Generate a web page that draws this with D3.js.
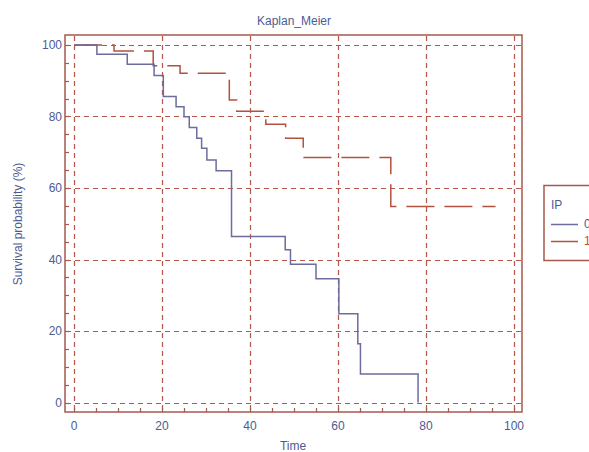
<!DOCTYPE html>
<html>
<head>
<meta charset="utf-8">
<script src="https://cdn.jsdelivr.net/npm/d3@7"></script>
<style>
  body { margin: 0; background: #fff; }
  svg { display: block; font-family: "Liberation Sans", Arial, sans-serif; }
</style>
</head>
<body>
<div id="chart"></div>
<script>
"use strict";

// Kaplan-Meier step data (time, survival %)
var group0Time = [0, 5.2, 12.1, 18.2, 20.3, 23.2, 25.0, 26.2, 27.9, 29.0, 30.2, 32.3, 35.8, 48.0, 49.2, 55.0, 60.2, 64.5, 65.1, 78.2];
var group0Surv = [100, 97.4, 94.6, 91.5, 85.6, 82.7, 79.9, 76.9, 73.9, 71.1, 67.8, 64.8, 46.4, 42.7, 38.7, 34.6, 24.8, 16.4, 8.0, 0];
var group0End = 78.2;

var group1Time = [0, 9.1, 18.0, 24.1, 35.3, 37.0, 43.6, 48.1, 52.1, 72.0];
var group1Surv = [100, 98.3, 94.2, 92.1, 84.6, 81.5, 77.8, 73.9, 68.5, 54.8];
var group1End = 95.8;

var xTicks = [0, 20, 40, 60, 80, 100];
var yTicks = [0, 20, 40, 60, 80, 100];
var legendLabels = ["0", "1"];

var W = 589, H = 452;
var frame = {left: 65, top: 35, right: 522, bottom: 412};

var txtColor = "#4b5b94";
var frameColor = "#a55a4f";
var gridColor = "#b4564a";
var c0 = "#6c6c9e";
var c1 = "#b4503f";

var svg = d3.select("#chart").append("svg")
    .attr("width", W)
    .attr("height", H);

// scales: 0->74, 100->514 ; y 0->402.5, 100->45
var x = d3.scaleLinear().domain([0, 100]).range([74, 514]);
var y = d3.scaleLinear().domain([0, 100]).range([402.5, 45]);

//snap to pixel centres so the dashed grid stays crisp
function px(v){ return Math.round(v) + 0.5; }

//grid
var grid = svg.append("g")
    .attr("stroke", gridColor)
    .attr("stroke-width", 1.2)
    .attr("stroke-dasharray", "5,4");

grid.selectAll("line.v").data(xTicks).enter().append("line")
    .attr("x1", function(d){ return px(x(d)); })
    .attr("x2", function(d){ return px(x(d)); })
    .attr("y1", frame.top + 1)
    .attr("y2", frame.bottom - 1);

grid.selectAll("line.h").data(yTicks).enter().append("line")
    .attr("y1", function(d){ return px(y(d)); })
    .attr("y2", function(d){ return px(y(d)); })
    .attr("x1", frame.left + 1)
    .attr("x2", frame.right - 1);

//step lines
function steps(times, survs, end){
    var pts = [];
    for (var i = 0; i < times.length; i++){
        pts.push([times[i], survs[i]]);
    }
    pts.push([end, survs[survs.length-1]]);
    return pts;
}

var line = d3.line()
    .x(function(d){ return x(d[0]); })
    .y(function(d){ return y(d[1]); })
    .curve(d3.curveStepAfter);

svg.append("path")
    .datum(steps(group1Time, group1Surv, group1End))
    .attr("d", line)
    .attr("fill", "none")
    .attr("stroke", c1)
    .attr("stroke-width", 1.5)
    .attr("stroke-dasharray", "28,10");

svg.append("path")
    .datum(steps(group0Time, group0Surv, group0End))
    .attr("d", line)
    .attr("fill", "none")
    .attr("stroke", c0)
    .attr("stroke-width", 1.5);

//frame
svg.append("rect")
    .attr("x", frame.left)
    .attr("y", frame.top)
    .attr("width", frame.right - frame.left)
    .attr("height", frame.bottom - frame.top)
    .attr("fill", "none")
    .attr("stroke", frameColor)
    .attr("stroke-width", 1.5);

//minor ticks every 5 units, pointing inward
var minorX = d3.range(0, 101, 5);
var minorY = d3.range(0, 101, 5);

svg.append("g").selectAll("line").data(minorX).enter().append("line")
    .attr("x1", function(d){ return px(x(d)); })
    .attr("x2", function(d){ return px(x(d)); })
    .attr("y1", frame.bottom)
    .attr("y2", frame.bottom - 4)
    .attr("stroke", frameColor)
    .attr("stroke-width", 1.2);

svg.append("g").selectAll("line").data(minorY).enter().append("line")
    .attr("y1", function(d){ return px(y(d)); })
    .attr("y2", function(d){ return px(y(d)); })
    .attr("x1", frame.left)
    .attr("x2", frame.left + 4)
    .attr("stroke", frameColor)
    .attr("stroke-width", 1.2);

//tick labels
svg.append("g").selectAll("text").data(xTicks).enter().append("text")
    .attr("x", function(d){ return x(d); })
    .attr("y", 430)
    .attr("text-anchor", "middle")
    .attr("font-size", 12)
    .attr("fill", txtColor)
    .text(function(d){ return d; });

svg.append("g").selectAll("text").data(yTicks).enter().append("text")
    .attr("x", 62)
    .attr("y", function(d){ return y(d) + 4; })
    .attr("text-anchor", "end")
    .attr("font-size", 12)
    .attr("fill", txtColor)
    .text(function(d){ return d; });

//titles
svg.append("text")
    .attr("x", 294)
    .attr("y", 25)
    .attr("text-anchor", "middle")
    .attr("font-size", 12)
    .attr("fill", txtColor)
    .text("Kaplan_Meier");

svg.append("text")
    .attr("x", 293)
    .attr("y", 450)
    .attr("text-anchor", "middle")
    .attr("font-size", 12)
    .attr("fill", txtColor)
    .text("Time");

svg.append("text")
    .attr("transform", "translate(22,224) rotate(-90)")
    .attr("text-anchor", "middle")
    .attr("font-size", 12)
    .attr("fill", txtColor)
    .text("Survival probability (%)");

//legend (cut off at the right edge, as in the original)
var lg = svg.append("g");
lg.append("rect")
    .attr("x", 544)
    .attr("y", 185.5)
    .attr("width", 60)
    .attr("height", 75)
    .attr("fill", "#fff")
    .attr("stroke", frameColor)
    .attr("stroke-width", 1.5);

lg.append("text")
    .attr("x", 551)
    .attr("y", 209)
    .attr("font-size", 12)
    .attr("fill", txtColor)
    .text("IP");

lg.selectAll("line.key").data(legendLabels).enter().append("line")
    .attr("x1", 551)
    .attr("x2", 578)
    .attr("y1", function(d, i){ return 224.5 + i * 17; })
    .attr("y2", function(d, i){ return 224.5 + i * 17; })
    .attr("stroke", function(d, i){ return i === 0 ? c0 : c1; })
    .attr("stroke-width", 1.5);

lg.selectAll("text.key").data(legendLabels).enter().append("text")
    .attr("x", 584)
    .attr("y", function(d, i){ return 228 + i * 17; })
    .attr("font-size", 12)
    .attr("fill", function(d, i){ return i === 0 ? txtColor : c1; })
    .text(function(d){ return d; });
</script>
</body>
</html>
